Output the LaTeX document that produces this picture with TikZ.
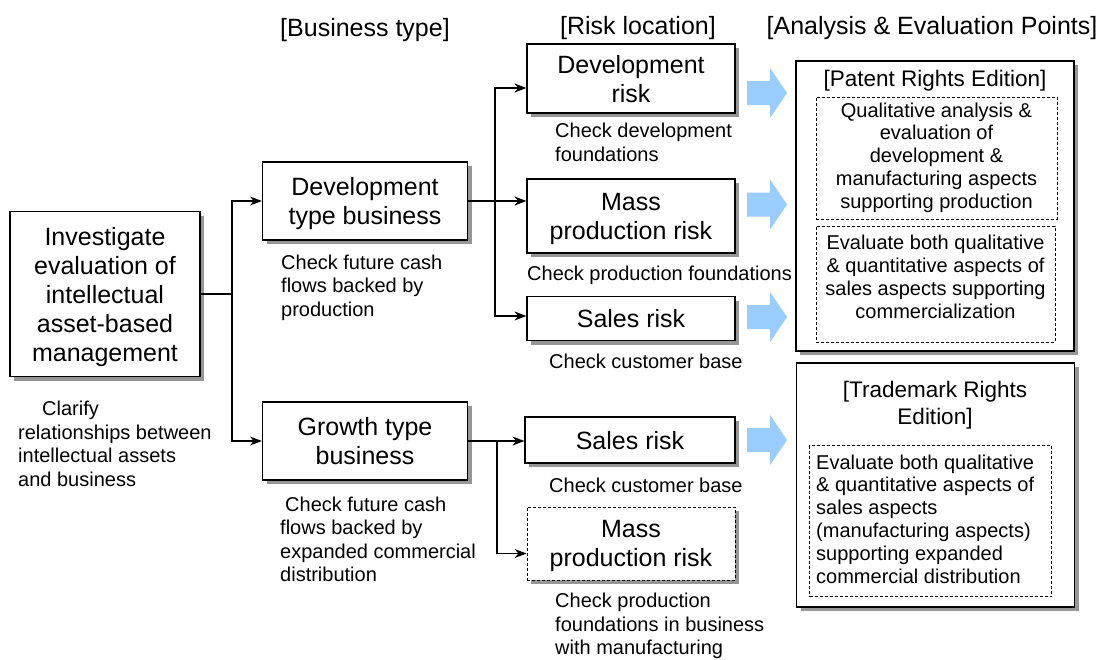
\documentclass[tikz,border=0pt]{standalone}
\usepackage{fontspec}
\setmainfont{Liberation Sans}
\usetikzlibrary{shadows,arrows.meta,calc}
\newcommand\bxfont{\fontsize{25}{29}\selectfont}
\newcommand\ntfont{\fontsize{20}{23.5}\selectfont}
\newcommand\edfont{\fontsize{22.5}{27}\selectfont}
\newcommand\infont{\fontsize{20}{22.8}\selectfont}
\definecolor{flowblue}{RGB}{153,204,255}
\definecolor{shadowgray}{RGB}{150,150,150}

\tikzset{
  flowarrow/.pic={\fill[flowblue] (0,-12)--(23,-12)--(23,-25)--(40,0)--(23,25)--(23,12)--(0,12)--cycle;}
}

\begin{document}
\begin{tikzpicture}[x=1pt,y=-1pt,
  box/.style={draw, line width=1.2pt, fill=white, inner sep=0pt, align=center, font=\bxfont,
    text depth=-3pt,
    drop shadow={shadow xshift=4pt, shadow yshift=-4pt, fill=shadowgray, opacity=1}},
  dashbox/.style={draw, line width=0.8pt, dash pattern=on 3pt off 2pt, inner sep=0pt},
  head/.style={font=\bxfont, inner sep=0pt},
  note/.style={font=\ntfont, align=left, anchor=west, inner sep=0pt},
  link/.style={line width=1.1pt},
  conn/.style={line width=1.1pt, -{Stealth[length=12pt,width=9pt]}}
]
\useasboundingbox (0,0) rectangle (1109,659);
\fill[white] (0,0) rectangle (1109,659);

% column headings
\node[head] (hbiz)  at (365,30) {[Business type]};
\node[head] (hrisk) at (638,28) {[Risk location]};
\node[head] (hana)  at (932,28) {[Analysis \& Evaluation Points]};

% root
\node[box, minimum width=190pt, minimum height=165pt] (main) at (105,294)
  {Investigate\\evaluation of\\intellectual\\asset-based\\management};
\node[note] (mainnote) at (18,444)
  {\hspace*{24pt}Clarify\\relationships between\\intellectual assets\\and business};

% business types
\node[box, minimum width=205pt, minimum height=78pt] (devtype) at (365,201)
  {Development\\type business};
\node[note] (devtypenote) at (281,287.5)
  {Check future cash\\flows backed by\\production};
\node[box, minimum width=205pt, minimum height=78pt] (growth) at (365,441)
  {Growth type\\business};
\node[note] (growthnote) at (280,539.5)
  {\hspace*{5pt}Check future cash\\flows backed by\\expanded commercial\\distribution};

% risks of development type business
\node[box, minimum width=208pt, minimum height=69pt] (devrisk) at (631,78.5)
  {Development\\risk};
\node[note] (devrisknote) at (555,142.5) {Check development\\foundations};
\node[box, minimum width=208pt, minimum height=74pt] (massrisk) at (631,216)
  {Mass\\production risk};
\node[note] (massrisknote) at (527,275) {Check production foundations};
\node[box, minimum width=208pt, minimum height=44pt] (salesrisk) at (631,318.5)
  {Sales risk};
\node[note] (salesrisknote) at (549,361) {Check customer base};

% risks of growth type business
\node[box, minimum width=210pt, minimum height=46pt] (sales2) at (630,440)
  {Sales risk};
\node[note] (sales2note) at (549,485) {Check customer base};
\node[box, dash pattern=on 3pt off 2pt, line width=0.9pt, minimum width=208pt, minimum height=73pt] (mass2) at (631,543.5)
  {Mass\\production risk};
\node[note] (mass2note) at (555,626)
  {Check production\\foundations in business\\with manufacturing};

% evaluation points: patent rights
\node[box, minimum width=278pt, minimum height=290pt] (patent) at (935,206) {};
\node[font=\edfont, inner sep=0pt] (patenttitle) at (935,81) {[Patent Rights Edition]};
\node[dashbox, minimum width=241pt, minimum height=122pt] (pin1) at (936.5,158) {};
\node[font=\infont, align=center, inner sep=0pt] (pin1text) at (936.5,157.5)
  {Qualitative analysis \&\\evaluation of\\development \&\\manufacturing aspects\\supporting production};
\node[dashbox, minimum width=239pt, minimum height=116pt] (pin2) at (935.5,284) {};
\node[font=\infont, align=center, inner sep=0pt] (pin2text) at (935.5,277)
  {Evaluate both qualitative\\\& quantitative aspects of\\sales aspects supporting\\commercialization};

% evaluation points: trademark rights
\node[box, minimum width=278pt, minimum height=244pt] (trademark) at (935.5,485) {};
\node[font=\edfont, align=center, inner sep=0pt] (tmtitle) at (935,405.5)
  {[Trademark Rights\\Edition]};
\node[dashbox, minimum width=242pt, minimum height=151pt] (tin) at (930.5,521) {};
\node[font=\infont, align=left, anchor=west, inner sep=0pt] (tintext) at (816,519)
  {Evaluate both qualitative\\\& quantitative aspects of\\sales aspects\\(manufacturing aspects)\\supporting expanded\\commercial distribution};

% flow arrows towards the evaluation points
\pic at (747,93) {flowarrow};
\pic at (747,204.5) {flowarrow};
\pic at (747,317) {flowarrow};
\pic at (747,440) {flowarrow};

% connectors
\coordinate (j1) at (232,294);
\draw[link] (main.east |- j1) -- (j1);
\draw[conn] (j1) |- (devtype.west);
\draw[conn] (j1) |- (growth.west);

\coordinate (j2) at (495,201);
\draw[link] (devtype.east |- j2) -- (j2);
\draw[conn] (j2) |- ([yshift=-9.5pt]devrisk.west);
\draw[conn] (j2) -- (massrisk.west |- j2);
\draw[conn] (j2) |- ([yshift=2.5pt]salesrisk.west);

\coordinate (j3) at (497,441);
\draw[link] (growth.east |- j3) -- (j3);
\draw[conn] (j3) -- (sales2.west |- j3);
\draw[conn] (j3) |- ([yshift=-10pt]mass2.west);
\end{tikzpicture}
\end{document}
